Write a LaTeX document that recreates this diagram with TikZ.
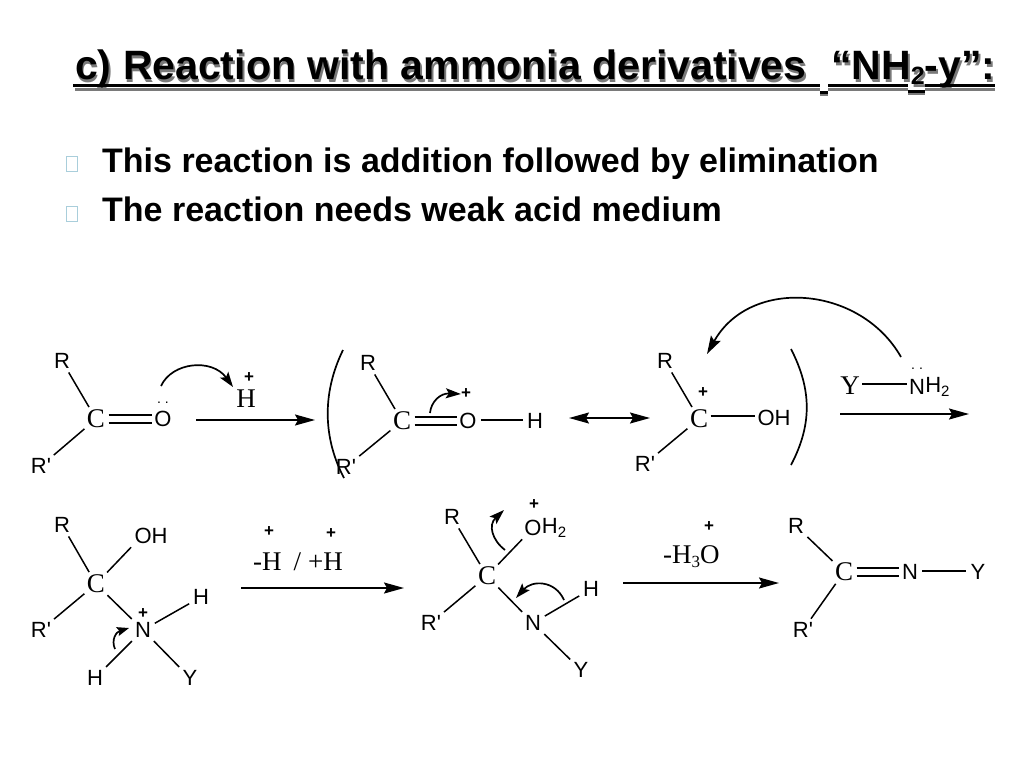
\documentclass[tikz,border=0pt]{standalone}
\usepackage{fontspec}
\setmainfont{Liberation Sans}
\newfontfamily\serifchem{Liberation Serif}
\newfontfamily\sanschem{Liberation Sans}
\usetikzlibrary{arrows.meta}
\definecolor{bulletc}{HTML}{A9CEDB}
\definecolor{shadowc}{HTML}{7A7A7A}
\tikzset{
 x=1pt,y=-1pt,
 lbl/.style={inner sep=1.5pt,font=\sanschem\fontsize{22}{22}\selectfont},
 catom/.style={inner sep=0.5pt,font=\serifchem\fontsize{27}{27}\selectfont},
 plus/.style={inner sep=0pt,font=\bfseries\fontsize{17}{17}\selectfont},
 dots/.style={inner sep=0pt,font=\fontsize{14}{14}\selectfont},
 bond/.style={line width=1.5pt,shorten >=2.5pt,shorten <=2.5pt},
 dbond/.style={line width=1.5pt,shorten >=1pt,shorten <=3pt},
 rxn/.style={line width=1.7pt,-{Stealth[length=20pt,width=11pt,inset=3pt]}},
 rxnb/.style={line width=1.7pt,{Stealth[length=20pt,width=11pt,inset=3pt]}-{Stealth[length=20pt,width=11pt,inset=3pt]}},
 curly/.style={line width=1.7pt,-{Stealth[length=15pt,width=10pt,inset=3pt]}},
 paren/.style={line width=1.7pt},
 ttl/.style={anchor=base west,inner sep=0pt,font=\bfseries\fontsize{41}{41}\selectfont},
 bodytxt/.style={anchor=base west,inner sep=0pt,font=\bfseries\fontsize{34}{34}\selectfont},
 bul/.style={draw=bulletc,line width=1pt,minimum width=11pt,minimum height=15pt,inner sep=0pt},
}
\newcommand{\titleA}{c) Reaction with ammonia derivatives}
\newcommand{\titleB}{“NH\raisebox{-5pt}{\fontsize{25}{25}\selectfont 2}-y”:}
\newcommand{\lonepair}{.\hspace{4pt}.}
\begin{document}
\begin{tikzpicture}
\useasboundingbox (0,0) rectangle (1024,768);
% title
\node[ttl,text=shadowc] (titleshadowA) at (76.5,82) {\titleA};
\node[ttl,text=shadowc] (titleshadowB) at (833,82) {\titleB};
\draw[shadowc,line width=3pt] (75,89) -- (820,89) (828,89) -- (908,89) (925,89) -- (995,89);
\draw[shadowc,line width=4pt] (820,94) -- (828,94) (908,93) -- (925,93);
\node[ttl] (titleA) at (75,79.5) {\titleA};
\node[ttl] (titleB) at (831,79.5) {\titleB};
\draw[line width=3.5pt] (73,85.5) -- (820,85.5) (828,85.5) -- (908,85.5) (925,85.5) -- (995,85.5);
\draw[line width=3pt] (820,92.5) -- (828,92.5) (908,91) -- (925,91);
% bullets
\node[bul] (b1) at (71.5,164) {};
\node[bul] (b2) at (71.5,213.5) {};
\node[bodytxt] (t1) at (102,172) {This reaction is addition followed by elimination};
\node[bodytxt] (t2) at (102,221) {The reaction needs weak acid medium};
% molecule 1
\node[lbl] (ar) at (62,361) {R};
\node[catom] (ac) at (96,419) {C};
\node[lbl] (ao) at (163,419) {O};
\node[dots] (ad) at (163,403) {\lonepair};
\node[lbl] (ar2) at (41,466) {R'};
\draw[bond] (ar) -- (ac);
\draw[bond] (ar2) -- (ac);
\draw[dbond] ([yshift=-4pt]ac.east) -- ([yshift=-4pt]ao.west);
\draw[dbond] ([yshift=4pt]ac.east) -- ([yshift=4pt]ao.west);
\node[catom] (ah) at (246,399) {H};
\node[plus] (ap) at (249,378) {+};
\coordinate (acs) at (161,386);
\coordinate (ace) at (233,387);
\draw[curly] (acs) .. controls (172,362) and (212,358) .. (ace);
\coordinate (a1s) at (196,420);
\coordinate (a1e) at (315,420);
\draw[rxn] (a1s) -- (a1e);
% molecule 2
\coordinate (pls) at (343,350);
\coordinate (ple) at (344,478);
\draw[paren] (pls) .. controls (321,395) and (324,440) .. (ple);
\node[lbl] (br) at (368,363) {R};
\node[catom] (bc) at (402,421) {C};
\node[lbl] (bo) at (468,421) {O};
\node[lbl] (bh) at (535,421) {H};
\node[lbl] (br2) at (346,467) {R'};
\draw[bond] (br) -- (bc);
\draw[bond] (br2) -- (bc);
\draw[dbond] ([yshift=-4pt]bc.east) -- ([yshift=-4pt]bo.west);
\draw[dbond] ([yshift=4pt]bc.east) -- ([yshift=4pt]bo.west);
\draw[bond] ([yshift=1pt]bo.east) -- ([yshift=1pt]bh.west);
\node[plus] (bp) at (466,394) {+};
\coordinate (bcs) at (430,413);
\draw[curly] (bcs) .. controls (431,402) and (440,393) .. (bp.west);
% resonance
\coordinate (r1) at (569,418);
\coordinate (r2) at (650,418);
\draw[rxnb] (r1) -- (r2);
% molecule 3
\node[lbl] (cr) at (665,361) {R};
\node[catom] (cc) at (699,419) {C};
\node[plus] (cp) at (703,393) {+};
\node[lbl] (coh) at (774,418) {OH};
\node[lbl] (cr2) at (645,464) {R'};
\draw[bond] (cr) -- (cc);
\draw[bond] (cr2) -- (cc);
\draw[bond,shorten >=1pt,shorten <=2pt] ([yshift=3pt]cc.east) -- ([yshift=2pt]coh.west);
\coordinate (prs) at (791,349);
\coordinate (pre) at (791,465);
\draw[paren] (prs) .. controls (812,390) and (812,425) .. (pre);
\node[catom] (dy) at (850,386) {Y};
\node[lbl] (dn) at (917,387) {N};
\node[lbl,anchor=west,inner sep=0pt] (dh) at ([xshift=-1.5pt]dn.east) {H\raisebox{-4pt}{\fontsize{15}{15}\selectfont 2}};
\node[dots] (dd) at (917,369) {\lonepair};
\draw[bond,shorten >=0pt,shorten <=2pt] ([yshift=2pt]dy.east) -- ([yshift=3pt]dn.west);
\coordinate (bigs) at (901,357);
\coordinate (bige) at (707,354);
\draw[curly,-{Stealth[length=18pt,width=11pt,inset=3pt]}] (bigs) .. controls (860,285) and (750,277) .. (bige);
\coordinate (a2s) at (840,414);
\coordinate (a2e) at (969,414);
\draw[rxn] (a2s) -- (a2e);
% molecule 4
\node[lbl] (er) at (62,525) {R};
\node[lbl] (eoh) at (151,536) {OH};
\node[catom] (ec) at (96,584) {C};
\node[lbl] (er2) at (41,630) {R'};
\node[lbl] (en) at (143,630) {N};
\node[plus] (ep) at (143,614) {+};
\node[lbl] (eh1) at (201,597) {H};
\node[lbl] (eh2) at (95,678) {H};
\node[lbl] (ey) at (190,678) {Y};
\draw[bond] (er) -- (ec);
\draw[bond] (ec) -- (eoh.south west);
\draw[bond] (er2) -- (ec);
\draw[bond] (ec) -- (en);
\draw[bond] (en) -- (eh1);
\draw[bond] (en) -- (eh2);
\draw[bond] (en) -- (ey);
\coordinate (ecs) at (115,649);
\coordinate (ece) at (129,628);
\draw[curly,-{Stealth[length=12pt,width=9pt,inset=2pt]}] (ecs) .. controls (111,640) and (116,632) .. (ece);
\node[plus] (fp1) at (269,532) {+};
\node[plus] (fp2) at (331,534) {+};
\node[catom,inner sep=0pt,anchor=base west] (ft) at (253,570) {-H\hspace{12pt}/\hspace{7pt}+H};
\coordinate (a3s) at (241,588);
\coordinate (a3e) at (404,588);
\draw[rxn] (a3s) -- (a3e);
% molecule 5
\node[lbl] (gr) at (452,517) {R};
\node[catom] (gc) at (487,576) {C};
\node[lbl] (gr2) at (431,623) {R'};
\node[lbl] (go) at (533,528) {O};
\node[lbl,anchor=west,inner sep=0pt] (gh) at ([xshift=-1.5pt]go.east) {H\raisebox{-4pt}{\fontsize{15}{15}\selectfont 2}};
\node[plus] (gp) at (534,505) {+};
\node[lbl] (gn) at (533,623) {N};
\node[lbl] (gh1) at (591,589) {H};
\node[lbl] (gy) at (581,670) {Y};
\draw[bond] (gr) -- (gc);
\draw[bond] (gc) -- (go);
\draw[bond] (gr2) -- (gc);
\draw[bond] (gc) -- (gn);
\draw[bond] (gn) -- (gh1);
\draw[bond] (gn) -- (gy);
\coordinate (gc1s) at (505,550);
\coordinate (gc1e) at (504,510);
\draw[curly] (gc1s) .. controls (492,540) and (488,525) .. (gc1e);
\coordinate (gc2s) at (564,600);
\coordinate (gc2e) at (516,598);
\draw[curly] (gc2s) .. controls (555,580) and (532,580) .. (gc2e);
\node[plus] (hp) at (709,527) {+};
\node[catom,inner sep=0pt,anchor=base west] (ht) at (663,563) {-H\raisebox{-4pt}{\fontsize{17}{17}\selectfont 3}O};
\coordinate (a4s) at (623,583);
\coordinate (a4e) at (779,583);
\draw[rxn] (a4s) -- (a4e);
% molecule 6
\node[lbl] (ir) at (796,526) {R};
\node[catom] (ic) at (844,572) {C};
\node[lbl] (in) at (910,572) {N};
\node[lbl] (iy) at (978,572) {Y};
\node[lbl] (ir2) at (803,630) {R'};
\draw[bond] (ir) -- (ic);
\draw[bond] (ir2) -- (ic);
\draw[dbond] ([yshift=-4pt]ic.east) -- ([yshift=-4pt]in.west);
\draw[dbond] ([yshift=4pt]ic.east) -- ([yshift=4pt]in.west);
\draw[bond] ([yshift=1pt]in.east) -- ([yshift=1pt]iy.west);
\end{tikzpicture}
\end{document}
